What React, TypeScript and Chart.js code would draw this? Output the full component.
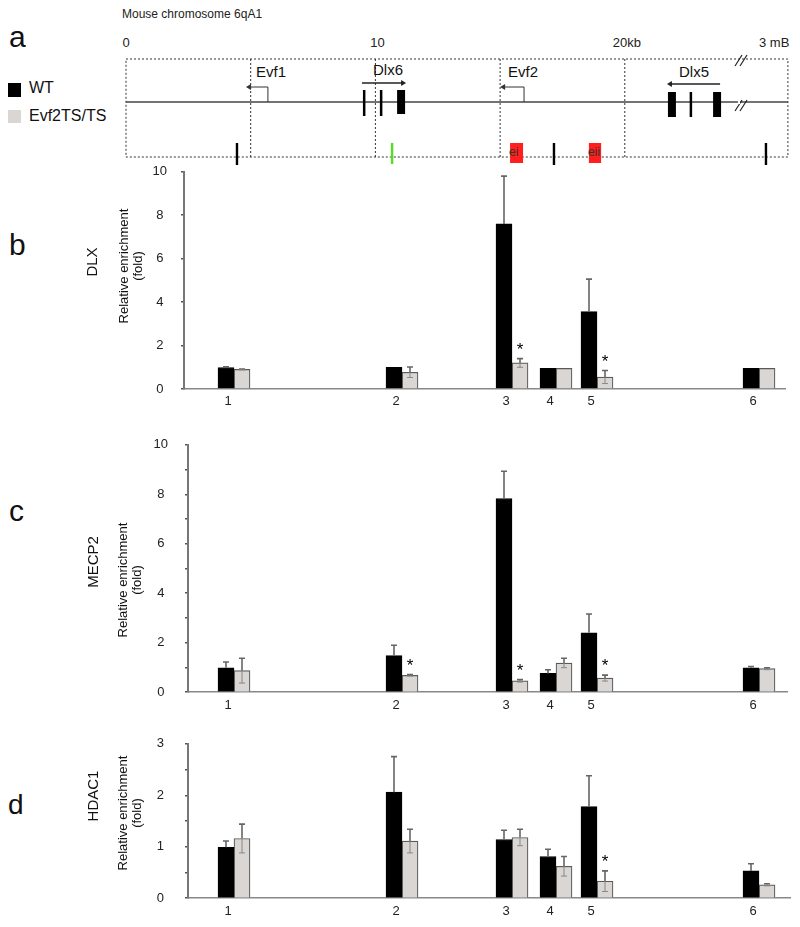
import React, { useEffect, useRef } from 'react';
import { Chart, registerables } from 'chart.js';
Chart.register(...registerables);

const FONT = '"Liberation Sans", Arial, Helvetica, sans-serif';
const GREY = '#dad6d3';

// ---- data ----
const primerLabels = ['1', '2', '3', '4', '5', '6'];
const primerPos = [5.0, 21.8, 32.8, 37.2, 41.3, 57.5];

const dlxWT = [0.99, 1.0, 7.6, 0.95, 3.56, 0.95];
const dlxWTErr = [0.03, 0.0, 2.2, 0.0, 1.5, 0.0];
const dlxTS = [0.9, 0.77, 1.2, 0.95, 0.55, 0.95];
const dlxTSErr = [0.02, 0.24, 0.2, 0.0, 0.3, 0.0];
const dlxStars = [false, false, true, false, true, false];

const mecp2WT = [0.99, 1.48, 7.83, 0.76, 2.4, 0.99];
const mecp2WTErr = [0.23, 0.42, 1.1, 0.15, 0.76, 0.05];
const mecp2TS = [0.87, 0.68, 0.46, 1.18, 0.57, 0.95];
const mecp2TSErr = [0.5, 0.03, 0.05, 0.19, 0.12, 0.04];
const mecp2Stars = [false, true, true, false, true, false];

const hdacWT = [0.99, 2.06, 1.14, 0.81, 1.78, 0.53];
const hdacWTErr = [0.12, 0.69, 0.18, 0.14, 0.6, 0.14];
const hdacTS = [1.16, 1.11, 1.18, 0.62, 0.33, 0.26];
const hdacTSErr = [0.28, 0.23, 0.16, 0.19, 0.2, 0.02];
const hdacStars = [false, false, false, false, true, false];

// gene map (kb)
const dividersKb = [5, 10, 15, 20];
const dlx6ExonsKb = [[9.5, 9.6], [10.18, 10.28], [10.87, 11.19]];
const dlx5ExonsKb = [[21.73, 22.05], [22.6, 22.7], [23.54, 23.86]];
const markerBlackKb = [4.45, 17.16, 25.66];
const markerGreenKb = [10.67];
const enhancers = [
  { name: 'ei', start: 15.4, end: 15.92 },
  { name: 'eii', start: 18.56, end: 19.05 },
];
const evf1Tss = 5.69, evf1Tip = 4.81;
const evf2Tss = 15.96, evf2Tip = 15.0;
const dlx6Arrow = [9.46, 11.23];
const dlx5Arrow = [23.82, 21.69];
const breakKb = 24.66;
const mapEndKb = 26.54;

const kb = (v: number) => 126 + v * 24.94;

const errorBarPlugin = {
  id: 'errorBars',
  afterDatasetsDraw(chart: any) {
    const ctx = chart.ctx;
    const y = chart.scales.y;
    chart.data.datasets.forEach((ds: any, di: number) => {
      const meta = chart.getDatasetMeta(di);
      meta.data.forEach((el: any, i: number) => {
        const v = ds.data[i].y;
        const e = ds.errors[i];
        const cx = el.x;
        const yTop = y.getPixelForValue(v + e);
        const yBar = y.getPixelForValue(v);
        ctx.save();
        if (e > 0.001) {
          ctx.strokeStyle = '#666';
          ctx.lineWidth = 1.6;
          ctx.beginPath();
          ctx.moveTo(cx, yBar);
          ctx.lineTo(cx, yTop);
          ctx.moveTo(cx - 3, yTop);
          ctx.lineTo(cx + 3, yTop);
          ctx.stroke();
          if (ds.lowerWhisker) {
            const yBot = y.getPixelForValue(Math.max(0, v - e));
            ctx.strokeStyle = '#888';
            ctx.lineWidth = 1;
            ctx.beginPath();
            ctx.moveTo(cx, yBar);
            ctx.lineTo(cx, yBot);
            ctx.moveTo(cx - 3, yBot);
            ctx.lineTo(cx + 3, yBot);
            ctx.stroke();
          }
        }
        if (ds.stars && ds.stars[i]) {
          ctx.fillStyle = '#000';
          ctx.font = `17px ${FONT}`;
          ctx.textAlign = 'center';
          ctx.textBaseline = 'alphabetic';
          ctx.fillText('*', cx, yTop - 4);
        }
        ctx.restore();
      });
    });
  },
};

type PanelCfg = {
  top: number; height: number; padTop: number; padRight: number; xAxisH: number;
  axisX: number; xMin: number; xMax: number; yMax: number; yStep: number; labelEvery: number;
  tickPad: number;
  wt: number[]; wtErr: number[]; ts: number[]; tsErr: number[]; stars: boolean[];
};

const panels: PanelCfg[] = [
  { top: 150, height: 268, padTop: 17, padRight: 15, xAxisH: 29, axisX: 184, xMin: 0, xMax: 60.1,
    yMax: 10, yStep: 2, labelEvery: 2, tickPad: 14,
    wt: dlxWT, wtErr: dlxWTErr, ts: dlxTS, tsErr: dlxTSErr, stars: dlxStars },
  { top: 420, height: 297, padTop: 16, padRight: 13, xAxisH: 18, axisX: 188, xMin: 0.4, xMax: 60.3,
    yMax: 10, yStep: 1, labelEvery: 2, tickPad: 17,
    wt: mecp2WT, wtErr: mecp2WTErr, ts: mecp2TS, tsErr: mecp2TSErr, stars: mecp2Stars },
  { top: 715, height: 212, padTop: 15, padRight: 10, xAxisH: 27, axisX: 188, xMin: 0.4, xMax: 60.6,
    yMax: 3, yStep: 0.5, labelEvery: 1, tickPad: 21,
    wt: hdacWT, wtErr: hdacWTErr, ts: hdacTS, tsErr: hdacTSErr, stars: hdacStars },
];

function Panel({ cfg }: { cfg: PanelCfg }) {
  const ref = useRef<HTMLCanvasElement>(null);
  useEffect(() => {
    const chart = new Chart(ref.current as HTMLCanvasElement, {
      type: 'bar',
      data: {
        datasets: [
          {
            label: 'WT',
            data: primerPos.map((x, i) => ({ x, y: cfg.wt[i] })),
            backgroundColor: '#000',
            borderColor: '#000',
            borderWidth: 1,
            errors: cfg.wtErr,
            lowerWhisker: false,
          } as any,
          {
            label: 'Evf2TS/TS',
            data: primerPos.map((x, i) => ({ x, y: cfg.ts[i] })),
            backgroundColor: GREY,
            borderColor: '#5a5a5a',
            borderWidth: 1.2,
            errors: cfg.tsErr,
            lowerWhisker: true,
            stars: cfg.stars,
          } as any,
        ],
      },
      options: {
        animation: false,
        responsive: false,
        maintainAspectRatio: false,
        layout: { padding: { top: cfg.padTop, right: cfg.padRight, left: 0, bottom: 0 } },
        datasets: { bar: { barThickness: 16, grouped: true } } as any,
        plugins: { legend: { display: false }, tooltip: { enabled: false } },
        scales: {
          x: {
            type: 'linear',
            min: cfg.xMin,
            max: cfg.xMax,
            offset: false,
            afterBuildTicks: (s: any) => { s.ticks = primerPos.map((v) => ({ value: v })); },
            afterFit: (s: any) => { s.height = cfg.xAxisH; },
            ticks: {
              autoSkip: false, maxRotation: 0, padding: 5, labelOffset: -6,
              font: { family: FONT, size: 13 }, color: '#222',
              callback: (_v: any, i: number) => primerLabels[i],
            },
            grid: { display: false, drawTicks: false },
            border: { display: true, color: '#888', width: 1.5 },
          } as any,
          y: {
            min: 0,
            max: cfg.yMax,
            afterFit: (s: any) => { s.width = cfg.axisX; },
            ticks: {
              stepSize: cfg.yStep,
              crossAlign: 'center',
              padding: cfg.tickPad,
              font: { family: FONT, size: 13 },
              color: '#222',
              callback: (v: any) => {
                const r = v / cfg.labelEvery;
                return Math.abs(r - Math.round(r)) < 1e-6 ? String(v) : '';
              },
            },
            grid: { drawOnChartArea: false, drawTicks: true, tickLength: 3, color: '#555', lineWidth: 1.5 },
            border: { display: true, color: '#777', width: 2 },
          } as any,
        },
      },
      plugins: [errorBarPlugin],
    });
    return () => chart.destroy();
  }, []);
  return (
    <canvas
      ref={ref}
      width={800}
      height={cfg.height}
      style={{ position: 'absolute', left: 0, top: cfg.top, width: 800, height: cfg.height }}
    />
  );
}

function VText({ cx, cy, size, children, lh }: any) {
  return (
    <div
      style={{
        position: 'absolute', left: cx, top: cy, transform: 'translate(-50%, -50%) rotate(-90deg)',
        whiteSpace: 'nowrap', fontSize: size, lineHeight: lh ? `${lh}px` : 1, textAlign: 'center',
        fontFamily: FONT, color: '#111',
      }}
    >
      {children}
    </div>
  );
}

function Txt({ x, y, size, children, color }: any) {
  return (
    <div style={{ position: 'absolute', left: x, top: y, fontSize: size, lineHeight: 1, fontFamily: FONT, color: color || '#111', whiteSpace: 'nowrap' }}>
      {children}
    </div>
  );
}

function GeneMap() {
  const lineY = 102;
  const boxTop = 59, boxBot = 157;
  const dash = '2,2';
  const arrowLeft = (x: number, y: number) => `${x},${y} ${x + 5},${y - 3} ${x + 5},${y + 3}`;
  const arrowRight = (x: number, y: number) => `${x},${y} ${x - 5},${y - 3} ${x - 5},${y + 3}`;
  return (
    <svg width={800} height={170} style={{ position: 'absolute', left: 0, top: 0 }}>
      <g fontFamily={FONT}>
        <text x={122} y={18} fontSize={12} fill="#222">Mouse chromosome 6qA1</text>
        <text x={kb(0)} y={47} fontSize={13} textAnchor="middle" fill="#222">0</text>
        <text x={kb(10) + 2} y={47} fontSize={13} textAnchor="middle" fill="#222">10</text>
        <text x={kb(20) - 12} y={47} fontSize={13} fill="#222">20kb</text>
        <text x={759} y={47} fontSize={13} fill="#222">3 mB</text>
      </g>
      <rect x={kb(0)} y={boxTop} width={kb(mapEndKb) - kb(0)} height={boxBot - boxTop} fill="none" stroke="#333" strokeWidth={1} strokeDasharray={dash} />
      {dividersKb.map((d) => (
        <line key={d} x1={kb(d)} x2={kb(d)} y1={boxTop} y2={boxBot} stroke="#333" strokeWidth={1} strokeDasharray={dash} />
      ))}
      <line x1={kb(0)} x2={kb(mapEndKb)} y1={lineY} y2={lineY} stroke="#444" strokeWidth={1.3} />
      {[lineY + 4, boxTop + 2].map((by, i) => (
        <g key={i} stroke="#222" strokeWidth={1.2}>
          <line x1={kb(breakKb) - 6} y1={by + 5} x2={kb(breakKb) + 1} y2={by - 6} />
          <line x1={kb(breakKb) - 1} y1={by + 5} x2={kb(breakKb) + 6} y2={by - 6} />
        </g>
      ))}
      <rect x={kb(breakKb) - 3} y={lineY - 2} width={2} height={4} fill="#fff" />
      <polyline points={`${kb(evf1Tss)},${lineY} ${kb(evf1Tss)},87 ${kb(evf1Tip) + 4},87`} fill="none" stroke="#333" strokeWidth={1} />
      <polygon points={arrowLeft(kb(evf1Tip), 87)} fill="#333" />
      <text x={256} y={77} fontSize={15} fontFamily={FONT} fill="#111">Evf1</text>
      <line x1={kb(dlx6Arrow[0])} x2={kb(dlx6Arrow[1]) - 4} y1={83} y2={83} stroke="#222" strokeWidth={1.5} />
      <polygon points={arrowRight(kb(dlx6Arrow[1]), 83)} fill="#222" />
      <text x={373} y={75} fontSize={15} fontFamily={FONT} fill="#111">Dlx6</text>
      {dlx6ExonsKb.map(([a, b], i) => (
        <rect key={i} x={kb(a)} y={90} width={kb(b) - kb(a)} height={i === 2 ? 24 : 26} fill="#000" />
      ))}
      <polyline points={`${kb(evf2Tss)},${lineY} ${kb(evf2Tss)},87 ${kb(evf2Tip) + 4},87`} fill="none" stroke="#333" strokeWidth={1} />
      <polygon points={arrowLeft(kb(evf2Tip), 87)} fill="#333" />
      <text x={508} y={77} fontSize={15} fontFamily={FONT} fill="#111">Evf2</text>
      <line x1={kb(dlx5Arrow[0])} x2={kb(dlx5Arrow[1]) + 4} y1={84} y2={84} stroke="#222" strokeWidth={1.5} />
      <polygon points={arrowLeft(kb(dlx5Arrow[1]), 84)} fill="#222" />
      <text x={679} y={77} fontSize={15} fontFamily={FONT} fill="#111">Dlx5</text>
      {dlx5ExonsKb.map(([a, b], i) => (
        <rect key={i} x={kb(a)} y={92} width={kb(b) - kb(a)} height={25} fill="#000" />
      ))}
      {markerBlackKb.map((m) => (
        <rect key={m} x={kb(m) - 1.2} y={143} width={2.4} height={22} fill="#000" />
      ))}
      {markerGreenKb.map((m) => (
        <rect key={m} x={kb(m) - 1.2} y={143} width={2.4} height={21} fill="#55dd22" />
      ))}
      {enhancers.map((e) => (
        <g key={e.name}>
          <rect x={kb(e.start)} y={143} width={kb(e.end) - kb(e.start)} height={20} fill="#ff1f1f" />
          <text x={kb(e.start) - 1} y={156} fontSize={12} fontFamily={FONT} fill="#333">{e.name}</text>
        </g>
      ))}
    </svg>
  );
}

export default function App() {
  return (
    <div style={{ position: 'absolute', left: 0, top: 0, width: 800, height: 927, background: '#fff', overflow: 'hidden' }}>
      <GeneMap />
      <div style={{ position: 'absolute', left: 8, top: 83, width: 13, height: 14, background: '#000' }} />
      <Txt x={29} y={80} size={16}>WT</Txt>
      <div style={{ position: 'absolute', left: 8, top: 110, width: 13, height: 13, background: GREY }} />
      <Txt x={29} y={108} size={16}>Evf2TS/TS</Txt>
      <Txt x={9} y={22} size={30}>a</Txt>
      <Txt x={9} y={230} size={30}>b</Txt>
      <Txt x={9} y={496} size={30}>c</Txt>
      <Txt x={8} y={791} size={28}>d</Txt>
      {panels.map((p, i) => <Panel key={i} cfg={p} />)}
      <VText cx={91} cy={262} size={15}>DLX</VText>
      <VText cx={131} cy={266} size={13} lh={14}>Relative enrichment<br />(fold)</VText>
      <VText cx={92} cy={562} size={15}>MECP2</VText>
      <VText cx={130} cy={580} size={13} lh={14}>Relative enrichment<br />(fold)</VText>
      <VText cx={92} cy={796} size={15}>HDAC1</VText>
      <VText cx={130} cy={813} size={13} lh={14}>Relative enrichment<br />(fold)</VText>
    </div>
  );
}
